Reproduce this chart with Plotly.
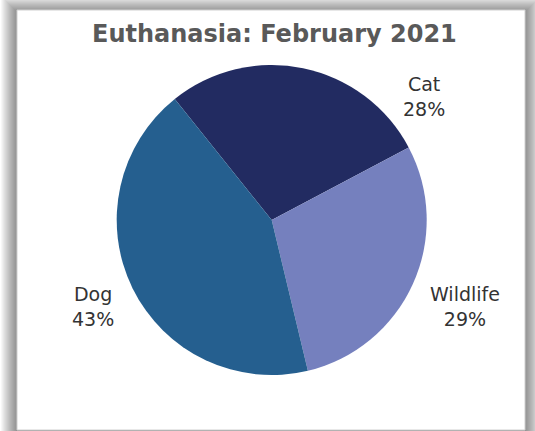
import plotly.graph_objects as go

# ---- data ----
categories = ["Cat", "Wildlife", "Dog"]
values = [28, 29, 43]
colors = ["#222B61", "#7580BE", "#255F8F"]
title_text = "Euthanasia: February 2021"

W, H = 535, 431

# label anchor positions in pixels (layout only)
label_pos = {"Cat": (424, 96), "Wildlife": (465, 306), "Dog": (93, 306)}

cx, cy, r = 271.7, 220, 155

def px(x):
    return x / W

def py(y):
    return 1 - y / H

fig = go.Figure()
fig.add_trace(go.Pie(
    labels=categories,
    values=values,
    marker=dict(colors=colors, line=dict(width=0)),
    sort=False,
    direction="clockwise",
    rotation=-38.7,
    textinfo="none",
    showlegend=False,
    domain=dict(x=[px(cx - r), px(cx + r)], y=[py(cy + r), py(cy - r)]),
))

total = sum(values)
annotations = []
for cat, v in zip(categories, values):
    x, y = label_pos[cat]
    annotations.append(dict(
        x=px(x), y=py(y), xref="paper", yref="paper",
        text=f"{cat}<br>{round(100 * v / total)}%",
        showarrow=False, xanchor="center", yanchor="middle", align="center",
        font=dict(family="DejaVu Sans", size=19, color="#333333"),
    ))
annotations.append(dict(
    x=px(274), y=py(34), xref="paper", yref="paper",
    text=f"<b>{title_text}</b>", showarrow=False,
    xanchor="center", yanchor="middle",
    font=dict(family="DejaVu Sans", size=24, color="#595959"),
))

# frame with soft shadow
shapes = []
bx0, by0, bx1, by1 = 17, 10, 525, 430
for i in range(16, 0, -1):
    shapes.append(dict(
        type="rect", xref="paper", yref="paper", layer="below",
        x0=px(bx0 - i), x1=px(bx1 + i), y0=py(by1 + i), y1=py(by0 - i + 2),
        fillcolor="rgba(0,0,0,0.03)", line=dict(width=0),
    ))
shapes.append(dict(
    type="rect", xref="paper", yref="paper", layer="below",
    x0=px(bx0), x1=px(bx1), y0=py(by1), y1=py(by0),
    fillcolor="white", line=dict(color="#D0D0D0", width=1),
))

fig.update_layout(
    width=W, height=H,
    margin=dict(l=0, r=0, t=0, b=0),
    paper_bgcolor="white",
    plot_bgcolor="white",
    annotations=annotations,
    shapes=shapes,
)

fig.write_html(
    "out.html",
    config={"displayModeBar": False},
    post_script="document.body.style.margin='0';document.body.style.overflow='hidden';",
)
